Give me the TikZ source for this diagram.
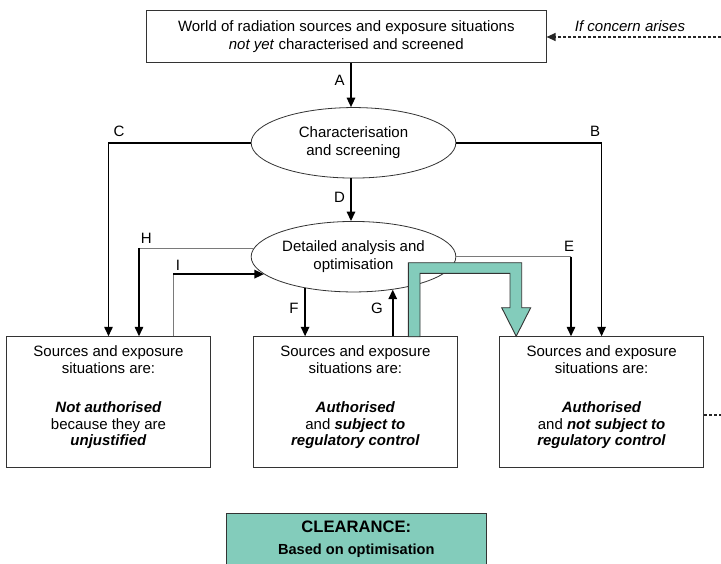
\documentclass[tikz,border=0pt]{standalone}
\usepackage{fontspec}
\setmainfont{Liberation Sans}
\usetikzlibrary{arrows.meta,shapes.geometric}
\definecolor{tealfill}{HTML}{83CCBB}
\definecolor{edgecol}{HTML}{333333}
\definecolor{thingray}{HTML}{7A7A7A}
\begin{document}
\begin{tikzpicture}[x=1pt,y=-1pt,
  every node/.style={font=\fontsize{15}{17.5}\selectfont},
  topbox/.style={draw=edgecol,line width=0.9pt,minimum width=399.7pt,minimum height=52.7pt,inner sep=0pt,align=center},
  ellnode/.style={ellipse,draw=edgecol,line width=0.8pt,minimum width=204.7pt,minimum height=70.5pt,inner xsep=-6pt,inner ysep=0pt,align=center},
  boxnode/.style={draw=edgecol,line width=0.9pt,minimum width=204.3pt,minimum height=130.6pt,inner sep=0pt},
  boxtxt/.style={inner sep=0pt,align=center,font=\fontsize{15}{16.7}\selectfont},
  lbl/.style={inner sep=0pt},
  arr/.style={line width=1.5pt,draw=black,-{Triangle[length=9.5pt,width=8.5pt]}},
  thinln/.style={line width=0.8pt,draw=thingray},
  dashln/.style={line width=1.3pt,draw=black!85,dash pattern=on 3pt off 2pt},
]
\useasboundingbox[fill=white] (0,0) rectangle (721,563);

% main nodes
\node[topbox] (top) at (346.3,36.4) {World of radiation sources and exposure situations\\\textit{not yet} characterised and screened};
\node[ellnode] (ell1) at (353.5,142.8) {Characterisation\\and screening};
\node[ellnode] (ell2) at (353.5,256.7) {Detailed analysis and\\optimisation};

\node[boxnode] (box1) at (108.5,402) {};
\node[boxnode] (box2) at (355.4,402) {};
\node[boxnode] (box3) at (601.6,402) {};

\node[boxtxt,anchor=north] (txt1) at ([yshift=-9.5pt]box1.north) {Sources and exposure\\situations are:\\[22.3pt]\textbf{\textit{Not authorised}}\\because they are\\\textbf{\textit{unjustified}}};
\node[boxtxt,anchor=north] (txt2) at ([yshift=-9.5pt]box2.north) {Sources and exposure\\situations are:\\[22.3pt]\textbf{\textit{Authorised}}\\and \textbf{\textit{subject to}}\\\textbf{\textit{regulatory control}}};
\node[boxtxt,anchor=north] (txt3) at ([yshift=-9.5pt]box3.north) {Sources and exposure\\situations are:\\[22.3pt]\textbf{\textit{Authorised}}\\and \textbf{\textit{not subject to}}\\\textbf{\textit{regulatory control}}};

% clearance box
\node[draw=edgecol,line width=0.9pt,fill=tealfill,minimum width=259.3pt,minimum height=60pt,inner sep=0pt,anchor=north] (clear) at (356.3,512.7) {};
\node[inner sep=0pt,align=center,anchor=north,font=\fontsize{14.6}{22.6}\selectfont\bfseries] (cleartxt) at ([yshift=-7.8pt]clear.north) {{\fontsize{16.6}{22.6}\selectfont CLEARANCE:}\\Based on optimisation};

% coordinates
\coordinate (ax) at (351,0);
\coordinate (hx) at (139,0);
\coordinate (ix) at (173.3,0);
\coordinate (ex) at (571,0);
\coordinate (cin) at (721,37);
\coordinate (cout) at (721,415);

% A, D
\draw[arr] (top.south -| ax) -- (ell1.north -| ax);
\draw[arr] (ell1.south -| ax) -- (ell2.north -| ax);
% C, B
\draw[arr] (ell1.west) -| (box1.north);
\draw[arr] (ell1.east) -| (box3.north);
% H
\draw[thinln] (ell2.175) -- (ell2.175 -| hx) coordinate (hc);
\draw[arr] (hc) -- (box1.north -| hx);
% I
\draw[thinln] (box1.north -| ix) -- (ell2.191 -| ix) coordinate (ic);
\draw[arr] (ic) -- (ell2.191);
% F, G
\draw[arr] (ell2.213) -- (ell2.213 |- box2.north);
\draw[arr] (box2.north -| ell2.320) -- (ell2.320);
% E
\draw[thinln] (ell2.east) -- (ell2.east -| ex) coordinate (ec);
\draw[arr] (ec) -- (box3.north -| ex);

% green clearance arrow
\draw[draw=edgecol,line width=0.9pt,fill=tealfill,line join=miter]
  (408.3,336.7) -- (408.3,262.7) -- (521.7,262.7) -- (521.7,307.7) -- (530.7,307.7)
  -- (516.2,336.2) -- (501.7,307.7) -- (510,307.7) -- (510,273.3) -- (420,273.3) -- (420,336.7) -- cycle;

% dashed lines
\draw[dashln,-{Triangle[length=9pt,width=8pt,sep=0pt]}] (cin) -- (top.east |- cin);
\node[lbl] (concern) at (630,26) {\textit{If concern arises}};
\draw[dashln] (box3.east |- cout) -- (cout);

% letters
\node[lbl] (lA) at (339.6,80) {A};
\node[lbl] (lB) at (595,131.7) {B};
\node[lbl] (lC) at (119,131.7) {C};
\node[lbl] (lD) at (339.6,197.5) {D};
\node[lbl] (lE) at (569,246) {E};
\node[lbl] (lF) at (294,308) {F};
\node[lbl] (lG) at (377,308.5) {G};
\node[lbl] (lH) at (146.3,238) {H};
\node[lbl] (lI) at (178,265) {I};
\end{tikzpicture}
\end{document}
